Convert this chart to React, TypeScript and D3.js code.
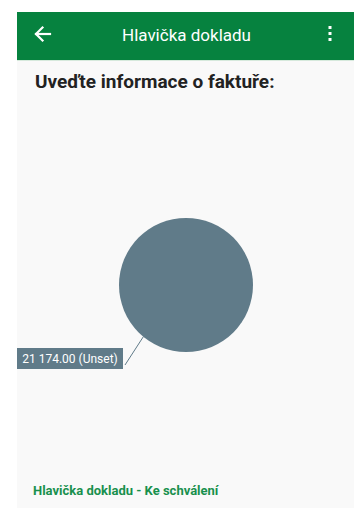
import React from "react";
import * as d3 from "d3";

const categories = ["Unset"];
const values = [21174.0];
const headerTitle = "Hlavička dokladu";
const pageTitle = "Uveďte informace o faktuře:";
const footerText = "Hlavička dokladu - Ke schválení";

const W = 354;
const H = 508;
const fmt = (v: number) => d3.format(",.2f")(v).replace(/,/g, " ");

export default function App() {
  const cx = 186;
  const cy = 285;
  const r = 67;
  const data = categories.map((c, i) => ({ c, v: values[i] }));
  const pie = d3.pie<{ c: string; v: number }>().value((d) => d.v).sort(null);
  const arcs = pie(data);
  const arc = d3.arc<d3.PieArcDatum<{ c: string; v: number }>>().innerRadius(0).outerRadius(r);
  const color = d3.scaleOrdinal<string, string>().domain(categories).range(["#607b89"]);
  const labelAngle = Math.PI + 0.69;
  const edge: [number, number] = [Math.sin(labelAngle) * r, -Math.cos(labelAngle) * r];
  const boxX = 17 - cx;
  const boxY = 348 - cy;
  const boxW = 106;
  const boxH = 21;
  return (
    <svg
      width={W}
      height={H}
      style={{ position: "fixed", left: 0, top: 0 }}
      fontFamily="Roboto, sans-serif"
    >
      <rect x={0} y={0} width={W} height={H} fill="#ffffff" />
      <rect x={17} y={12} width={W - 17} height={H - 12} fill="#f9f9f9" />
      <rect x={17} y={12} width={W - 17} height={48} fill="#06823f" />
      <rect x={17} y={60} width={W - 17} height={1} fill="#d6e9dc" />
      <g stroke="#ffffff" strokeWidth={2.2} fill="none" strokeLinecap="square">
        <line x1={36} y1={34} x2={50} y2={34} />
        <polyline points="42.5,27.5 36,34 42.5,40.5" />
      </g>
      <text x={186.5} y={40.5} textAnchor="middle" fill="#ffffff" fontSize={17}>
        {headerTitle}
      </text>
      <g fill="#ffffff">
        <rect x={328.5} y={26} width={3} height={3} />
        <rect x={328.5} y={32} width={3} height={3} />
        <rect x={328.5} y={38} width={3} height={3} />
      </g>
      <text x={35} y={88} fill="#222222" fontSize={19} fontWeight="bold">
        {pageTitle}
      </text>
      <g transform={`translate(${cx},${cy})`}>
        {arcs.map((a, i) => (
          <path key={i} d={arc(a) || ""} fill={color(a.data.c)} />
        ))}
        <line
          x1={edge[0]}
          y1={edge[1]}
          x2={boxX + boxW + 2}
          y2={boxY + boxH - 4}
          stroke="#607b89"
          strokeWidth={1}
        />
        <rect x={boxX} y={boxY} width={boxW} height={boxH} fill="#607b89" />
        <text
          x={boxX + boxW / 2}
          y={boxY + 15}
          textAnchor="middle"
          fill="#ffffff"
          fontSize={12}
        >
          {`${fmt(values[0])} (${categories[0]})`}
        </text>
      </g>
      <text x={33} y={495} fill="#18904d" fontSize={13} fontWeight="bold">
        {footerText}
      </text>
    </svg>
  );
}
